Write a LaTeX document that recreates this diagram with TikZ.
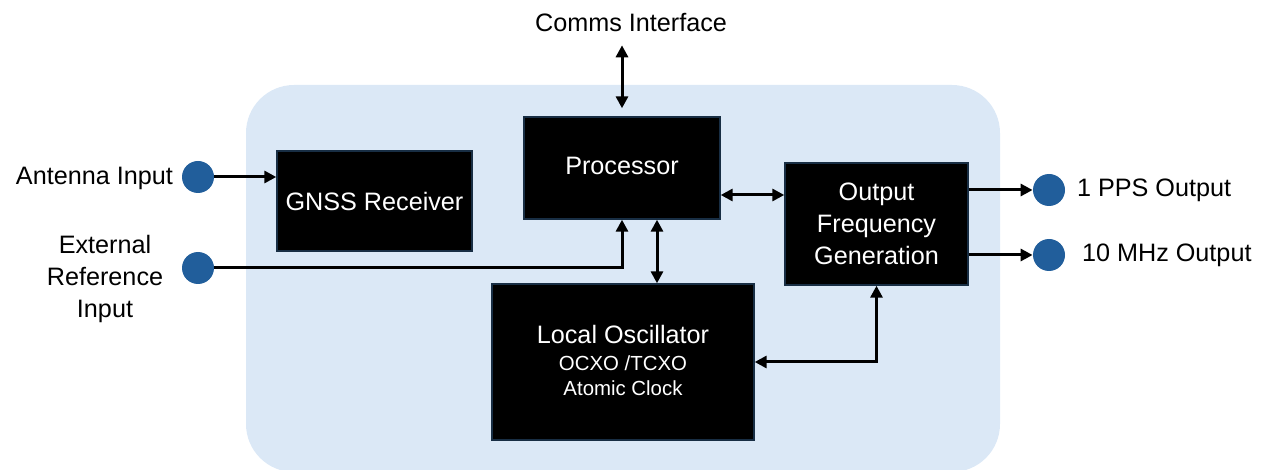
\documentclass[tikz,border=0pt]{standalone}
\usepackage{fontspec}
\setmainfont{Liberation Sans}
\usepackage{tikz}
\usetikzlibrary{arrows.meta,positioning,calc}
\definecolor{panel}{RGB}{219,232,246}
\definecolor{port}{RGB}{33,94,155}
\definecolor{edge}{RGB}{24,46,68}

\begin{document}
\begin{tikzpicture}[x=0.5pt, y=-0.5pt,
  blk/.style={draw=edge, line width=0.7pt, fill=black, text=white,
              align=center, inner sep=0pt, font=\fontsize{12.6}{16}\selectfont},
  pin/.style={circle, fill=port, minimum size=16pt, inner sep=0pt},
  lab/.style={align=center, font=\fontsize{12.6}{16}\selectfont},
  arr/.style={-{Triangle[length=6pt,width=6pt]}, line width=1.5pt},
  darr/.style={{Triangle[length=6pt,width=6pt]}-{Triangle[length=6pt,width=6pt]},
               line width=1.5pt}]
\useasboundingbox (0,0) rectangle (1270,470);
\fill[panel, rounded corners=24pt] (246,85) rectangle (1000,472);
\node[blk, minimum width=97.5pt, minimum height=50pt] (gnss) at (374.5,201)
  {GNSS Receiver};
\node[blk, minimum width=98pt, minimum height=51pt] (proc) at (622,168)
  {\raisebox{2.5pt}{Processor}};
\node[blk, minimum width=91.5pt, minimum height=61pt] (out) at (876.5,224)
  {\raisebox{-1.5pt}{Output}\\ \raisebox{-1.5pt}{Frequency}\\
   \raisebox{-1.5pt}{Generation}};
\node[blk, minimum width=131pt, minimum height=78pt] (lo) at (623,362)
  {\raisebox{2pt}{Local Oscillator}\\[-2.5pt]
   {\fontsize{10.2}{13}\selectfont\raisebox{2pt}{OCXO /TCXO}}\\[-3.5pt]
   {\fontsize{10.2}{13}\selectfont\raisebox{2pt}{Atomic Clock}}};
\node[pin] (ant) at (198,177) {};
\node[pin] (ext) at (198,268) {};
\node[pin] (pps) at (1049,190) {};
\node[pin] (mhz) at (1049,255) {};
\node[lab, anchor=east] (antlab) at (180,178) {Antenna Input};
\node[lab] (extlab) at (105,279) {External\\ Reference\\ Input};
\node[lab, anchor=west] (ppslab) at (1070,190) {1 PPS Output};
\node[lab, anchor=west] (mhzlab) at (1075,255) {10 MHz Output};
\node[lab] (comms) at (631,23) {Comms Interface};
\draw[darr] ([yshift=-3pt]proc.north |- comms.south)
  -- ([yshift=4pt]proc.north);
\draw[arr] (ant.east) -- (gnss.west |- ant);
\draw[arr] (ext.east) -| (proc.south);
\draw[darr] ([xshift=17.5pt]proc.south) -- ([xshift=17.5pt]proc.south |- lo.north);
\draw[darr] ([yshift=-13.5pt]proc.east) -- ([yshift=-13.5pt]proc.east -| out.west);
\draw[arr] (out.east |- pps) -- (pps.west);
\draw[arr] (out.east |- mhz) -- (mhz.west);
\draw[darr] (lo.east) -| (out.south);
\end{tikzpicture}
\end{document}
